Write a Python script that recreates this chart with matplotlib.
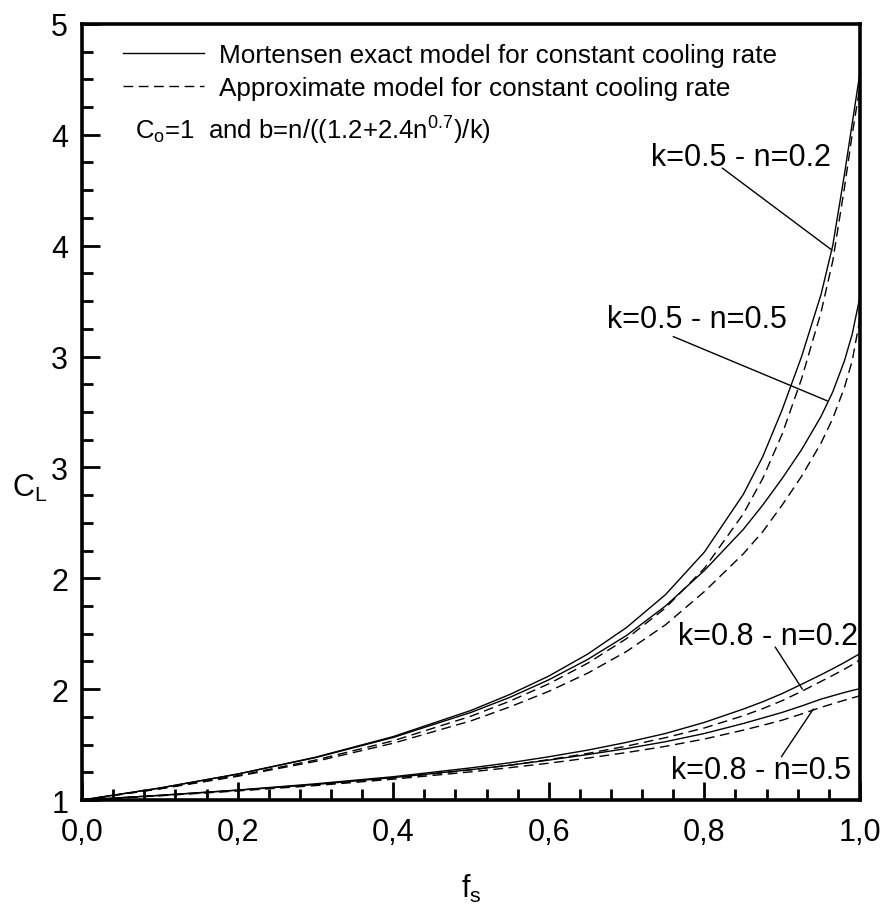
import numpy as np
import matplotlib
matplotlib.use("Agg")
import matplotlib.pyplot as plt
from matplotlib.ticker import MultipleLocator, FuncFormatter
from matplotlib.lines import Line2D

plt.rcParams['font.family'] = ['Liberation Sans', 'DejaVu Sans']
plt.rcParams['mathtext.default'] = 'regular'

# Solid fraction grid shared by all curves
fs = [0.0, 0.1, 0.2, 0.3, 0.4, 0.5, 0.55, 0.6, 0.65, 0.7, 0.75, 0.8, 0.85,
      0.875, 0.9, 0.925, 0.95, 0.965, 0.98, 0.99, 1.0]

# Liquid concentration C_L, Mortensen exact model (solid lines)
cl_exact_k05_n02 = [1.0, 1.054, 1.117, 1.193, 1.286, 1.404, 1.476, 1.559, 1.658,
                    1.778, 1.926, 2.118, 2.378, 2.548, 2.760, 3.000, 3.280,
                    3.500, 3.820, 4.050, 4.280]
cl_exact_k05_n05 = [1.0, 1.054, 1.117, 1.191, 1.282, 1.395, 1.463, 1.542, 1.634,
                    1.742, 1.875, 2.035, 2.220, 2.330, 2.450, 2.580, 2.730,
                    2.840, 2.980, 3.100, 3.270]
cl_exact_k08_n02 = [1.0, 1.021, 1.045, 1.073, 1.105, 1.145, 1.168, 1.195, 1.225,
                    1.260, 1.300, 1.350, 1.410, 1.443, 1.480, 1.522, 1.565,
                    1.592, 1.620, 1.640, 1.660]
cl_exact_k08_n05 = [1.0, 1.021, 1.044, 1.070, 1.101, 1.137, 1.157, 1.180, 1.205,
                    1.232, 1.263, 1.300, 1.345, 1.370, 1.395, 1.424, 1.455,
                    1.470, 1.485, 1.494, 1.502]

# Liquid concentration C_L, approximate model (dashed lines)
cl_approx_k05_n02 = [1.0, 1.051, 1.110, 1.180, 1.267, 1.378, 1.446, 1.524, 1.617,
                     1.728, 1.866, 2.045, 2.290, 2.450, 2.650, 2.900, 3.200,
                     3.430, 3.760, 4.000, 4.220]
cl_approx_k05_n05 = [1.0, 1.050, 1.107, 1.174, 1.256, 1.357, 1.420, 1.490, 1.572,
                     1.670, 1.790, 1.940, 2.110, 2.210, 2.330, 2.460, 2.610,
                     2.720, 2.860, 2.980, 3.170]
cl_approx_k08_n02 = [1.0, 1.020, 1.043, 1.069, 1.099, 1.136, 1.157, 1.182, 1.210,
                     1.243, 1.281, 1.325, 1.380, 1.412, 1.448, 1.490, 1.535,
                     1.562, 1.590, 1.610, 1.632]
cl_approx_k08_n05 = [1.0, 1.019, 1.041, 1.065, 1.094, 1.127, 1.146, 1.166, 1.189,
                     1.214, 1.242, 1.275, 1.315, 1.337, 1.360, 1.388, 1.418,
                     1.434, 1.450, 1.460, 1.470]

# Curve labels: text, right-aligned anchor (x, y), pointer start, pointer end
curve_labels = ["k=0.5 - n=0.2", "k=0.5 - n=0.5", "k=0.8 - n=0.2", "k=0.8 - n=0.5"]
label_xy = [(0.962, 3.90), (0.906, 3.17), (0.998, 1.74), (0.988, 1.136)]
pointer_start = [(0.823, 3.85), (0.760, 3.09), (0.891, 1.69), (0.899, 1.195)]
pointer_end = [(0.964, 3.48), (0.958, 2.80), (0.926, 1.50), (0.940, 1.41)]

x_ticks = [0.0, 0.2, 0.4, 0.6, 0.8, 1.0]

fig = plt.figure(figsize=(8.86, 9.12), dpi=100)
ax = fig.add_axes([0.0926, 0.1217, 0.878, 0.851])

dash = (0, (7, 4))
for y in (cl_exact_k05_n02, cl_exact_k05_n05, cl_exact_k08_n02, cl_exact_k08_n05):
    ax.plot(fs, y, color='black', lw=1.0, solid_joinstyle='round')
for y in (cl_approx_k05_n02, cl_approx_k05_n05, cl_approx_k08_n02, cl_approx_k08_n05):
    ax.plot(fs, y, color='black', lw=1.0, linestyle=dash)

for txt, xy, p0, p1 in zip(curve_labels, label_xy, pointer_start, pointer_end):
    ax.text(xy[0], xy[1], txt, ha='right', va='center', fontsize=22)
    ax.annotate('', xy=p1, xytext=p0,
                arrowprops=dict(arrowstyle='-', lw=1.0, color='black',
                                shrinkA=0, shrinkB=0))

ax.set_xlim(0.0, 1.0)
ax.set_ylim(1.0, 4.5)

ax.set_xticks(x_ticks)
ax.xaxis.set_minor_locator(MultipleLocator(0.04))
ax.xaxis.set_major_formatter(FuncFormatter(lambda v, p: f"{v:.1f}".replace('.', ',')))
ax.yaxis.set_major_locator(MultipleLocator(0.5))
ax.yaxis.set_minor_locator(MultipleLocator(0.125))
ax.yaxis.set_major_formatter(FuncFormatter(lambda v, p: str(int(np.floor(v + 0.5)))))

ax.tick_params(which='both', direction='in', top=False, right=False, width=2.0,
               labelsize=22, pad=10)
ax.tick_params(axis='x', pad=12)
ax.tick_params(which='major', length=13)
ax.tick_params(which='minor', length=8)
for s in ax.spines.values():
    s.set_linewidth(2.6)

ax.set_xlabel('f$_s$', fontsize=22, labelpad=18)
ax.text(-0.067, 0.403, 'C$_L$', transform=ax.transAxes, fontsize=22,
        ha='center', va='center')

# Legend drawn as line samples with text
legend_handles = [Line2D([], [], color='black', lw=1.0),
                  Line2D([], [], color='black', lw=1.0, linestyle=dash)]
legend_texts = ['Mortensen exact model for constant cooling rate',
                'Approximate model for constant cooling rate']
ax.legend(legend_handles, legend_texts, loc='upper left', frameon=False,
          fontsize=18.8, handlelength=3.1, handletextpad=0.55,
          bbox_to_anchor=(0.053, 0.975), borderaxespad=0.0, borderpad=0.0,
          labelspacing=0.35)

ax.text(0.068, 4.02, 'C$_o$=1  and b=n/((1.2+2.4n$^{0.7}$)/k)', fontsize=18.5,
        ha='left', va='center')

fig.savefig('out.png', dpi=100)
